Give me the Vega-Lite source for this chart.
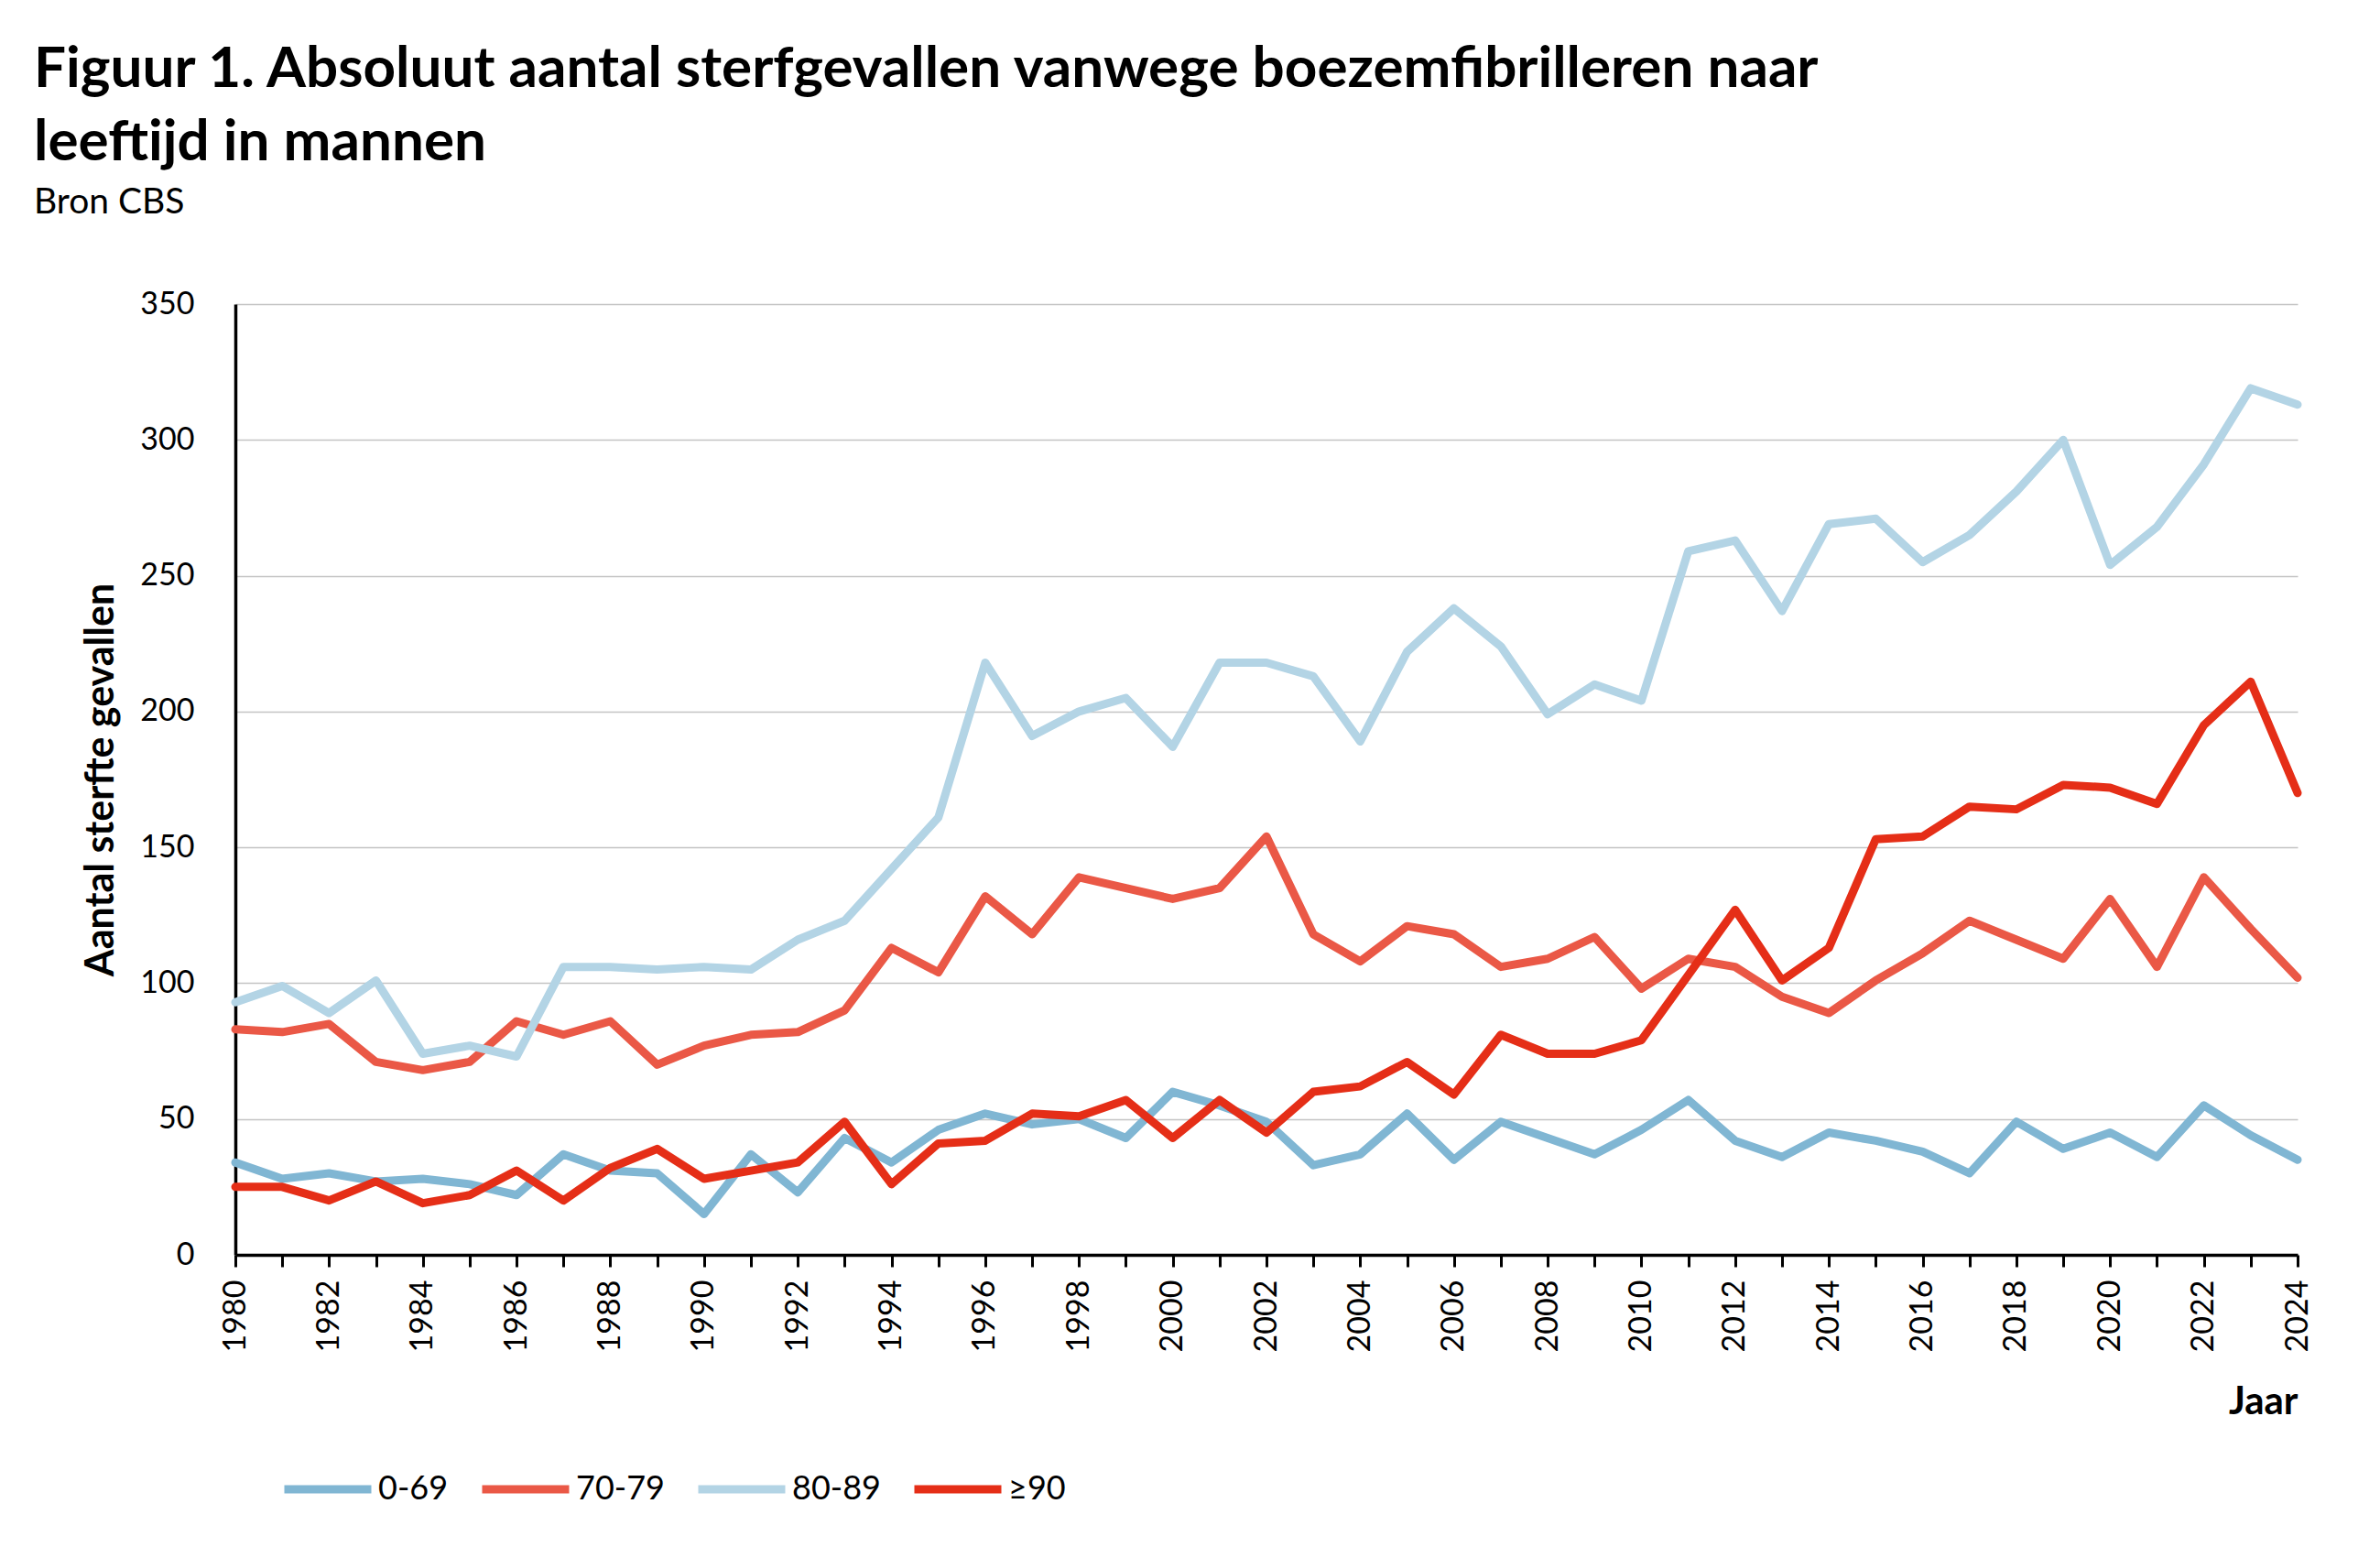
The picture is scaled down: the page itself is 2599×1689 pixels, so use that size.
{
  "$schema": "https://vega.github.io/schema/vega-lite/v6.json",
  "autosize": {"type": "none"},
  "padding": {"left": 257, "top": 332, "right": 90, "bottom": 319},
  "width": 2252,
  "height": 1038,
  "background": "white",
  "config": {
    "font": "Lato",
    "view": {"stroke": null}
  },
  "title": {
    "text": ["Figuur 1. Absoluut aantal sterfgevallen vanwege boezemfibrilleren naar", "leeftijd in mannen"],
    "subtitle": "Bron CBS",
    "anchor": "start",
    "frame": "group",
    "dx": -220,
    "offset": 73,
    "font": "Lato",
    "fontSize": 62,
    "fontWeight": "bold",
    "lineHeight": 80,
    "color": "black",
    "subtitleFont": "Lato",
    "subtitleFontSize": 39,
    "subtitleFontWeight": "normal",
    "subtitleColor": "black",
    "subtitlePadding": 14
  },
  "data": {
    "values": [
      {"jaar": 1980, "leeftijd": "0-69", "aantal": 34},
      {"jaar": 1981, "leeftijd": "0-69", "aantal": 28},
      {"jaar": 1982, "leeftijd": "0-69", "aantal": 30},
      {"jaar": 1983, "leeftijd": "0-69", "aantal": 27},
      {"jaar": 1984, "leeftijd": "0-69", "aantal": 28},
      {"jaar": 1985, "leeftijd": "0-69", "aantal": 26},
      {"jaar": 1986, "leeftijd": "0-69", "aantal": 22},
      {"jaar": 1987, "leeftijd": "0-69", "aantal": 37},
      {"jaar": 1988, "leeftijd": "0-69", "aantal": 31},
      {"jaar": 1989, "leeftijd": "0-69", "aantal": 30},
      {"jaar": 1990, "leeftijd": "0-69", "aantal": 15},
      {"jaar": 1991, "leeftijd": "0-69", "aantal": 37},
      {"jaar": 1992, "leeftijd": "0-69", "aantal": 23},
      {"jaar": 1993, "leeftijd": "0-69", "aantal": 43},
      {"jaar": 1994, "leeftijd": "0-69", "aantal": 34},
      {"jaar": 1995, "leeftijd": "0-69", "aantal": 46},
      {"jaar": 1996, "leeftijd": "0-69", "aantal": 52},
      {"jaar": 1997, "leeftijd": "0-69", "aantal": 48},
      {"jaar": 1998, "leeftijd": "0-69", "aantal": 50},
      {"jaar": 1999, "leeftijd": "0-69", "aantal": 43},
      {"jaar": 2000, "leeftijd": "0-69", "aantal": 60},
      {"jaar": 2001, "leeftijd": "0-69", "aantal": 55},
      {"jaar": 2002, "leeftijd": "0-69", "aantal": 49},
      {"jaar": 2003, "leeftijd": "0-69", "aantal": 33},
      {"jaar": 2004, "leeftijd": "0-69", "aantal": 37},
      {"jaar": 2005, "leeftijd": "0-69", "aantal": 52},
      {"jaar": 2006, "leeftijd": "0-69", "aantal": 35},
      {"jaar": 2007, "leeftijd": "0-69", "aantal": 49},
      {"jaar": 2008, "leeftijd": "0-69", "aantal": 43},
      {"jaar": 2009, "leeftijd": "0-69", "aantal": 37},
      {"jaar": 2010, "leeftijd": "0-69", "aantal": 46},
      {"jaar": 2011, "leeftijd": "0-69", "aantal": 57},
      {"jaar": 2012, "leeftijd": "0-69", "aantal": 42},
      {"jaar": 2013, "leeftijd": "0-69", "aantal": 36},
      {"jaar": 2014, "leeftijd": "0-69", "aantal": 45},
      {"jaar": 2015, "leeftijd": "0-69", "aantal": 42},
      {"jaar": 2016, "leeftijd": "0-69", "aantal": 38},
      {"jaar": 2017, "leeftijd": "0-69", "aantal": 30},
      {"jaar": 2018, "leeftijd": "0-69", "aantal": 49},
      {"jaar": 2019, "leeftijd": "0-69", "aantal": 39},
      {"jaar": 2020, "leeftijd": "0-69", "aantal": 45},
      {"jaar": 2021, "leeftijd": "0-69", "aantal": 36},
      {"jaar": 2022, "leeftijd": "0-69", "aantal": 55},
      {"jaar": 2023, "leeftijd": "0-69", "aantal": 44},
      {"jaar": 2024, "leeftijd": "0-69", "aantal": 35},
      {"jaar": 1980, "leeftijd": "70-79", "aantal": 83},
      {"jaar": 1981, "leeftijd": "70-79", "aantal": 82},
      {"jaar": 1982, "leeftijd": "70-79", "aantal": 85},
      {"jaar": 1983, "leeftijd": "70-79", "aantal": 71},
      {"jaar": 1984, "leeftijd": "70-79", "aantal": 68},
      {"jaar": 1985, "leeftijd": "70-79", "aantal": 71},
      {"jaar": 1986, "leeftijd": "70-79", "aantal": 86},
      {"jaar": 1987, "leeftijd": "70-79", "aantal": 81},
      {"jaar": 1988, "leeftijd": "70-79", "aantal": 86},
      {"jaar": 1989, "leeftijd": "70-79", "aantal": 70},
      {"jaar": 1990, "leeftijd": "70-79", "aantal": 77},
      {"jaar": 1991, "leeftijd": "70-79", "aantal": 81},
      {"jaar": 1992, "leeftijd": "70-79", "aantal": 82},
      {"jaar": 1993, "leeftijd": "70-79", "aantal": 90},
      {"jaar": 1994, "leeftijd": "70-79", "aantal": 113},
      {"jaar": 1995, "leeftijd": "70-79", "aantal": 104},
      {"jaar": 1996, "leeftijd": "70-79", "aantal": 132},
      {"jaar": 1997, "leeftijd": "70-79", "aantal": 118},
      {"jaar": 1998, "leeftijd": "70-79", "aantal": 139},
      {"jaar": 1999, "leeftijd": "70-79", "aantal": 135},
      {"jaar": 2000, "leeftijd": "70-79", "aantal": 131},
      {"jaar": 2001, "leeftijd": "70-79", "aantal": 135},
      {"jaar": 2002, "leeftijd": "70-79", "aantal": 154},
      {"jaar": 2003, "leeftijd": "70-79", "aantal": 118},
      {"jaar": 2004, "leeftijd": "70-79", "aantal": 108},
      {"jaar": 2005, "leeftijd": "70-79", "aantal": 121},
      {"jaar": 2006, "leeftijd": "70-79", "aantal": 118},
      {"jaar": 2007, "leeftijd": "70-79", "aantal": 106},
      {"jaar": 2008, "leeftijd": "70-79", "aantal": 109},
      {"jaar": 2009, "leeftijd": "70-79", "aantal": 117},
      {"jaar": 2010, "leeftijd": "70-79", "aantal": 98},
      {"jaar": 2011, "leeftijd": "70-79", "aantal": 109},
      {"jaar": 2012, "leeftijd": "70-79", "aantal": 106},
      {"jaar": 2013, "leeftijd": "70-79", "aantal": 95},
      {"jaar": 2014, "leeftijd": "70-79", "aantal": 89},
      {"jaar": 2015, "leeftijd": "70-79", "aantal": 101},
      {"jaar": 2016, "leeftijd": "70-79", "aantal": 111},
      {"jaar": 2017, "leeftijd": "70-79", "aantal": 123},
      {"jaar": 2018, "leeftijd": "70-79", "aantal": 116},
      {"jaar": 2019, "leeftijd": "70-79", "aantal": 109},
      {"jaar": 2020, "leeftijd": "70-79", "aantal": 131},
      {"jaar": 2021, "leeftijd": "70-79", "aantal": 106},
      {"jaar": 2022, "leeftijd": "70-79", "aantal": 139},
      {"jaar": 2023, "leeftijd": "70-79", "aantal": 120},
      {"jaar": 2024, "leeftijd": "70-79", "aantal": 102},
      {"jaar": 1980, "leeftijd": "80-89", "aantal": 93},
      {"jaar": 1981, "leeftijd": "80-89", "aantal": 99},
      {"jaar": 1982, "leeftijd": "80-89", "aantal": 89},
      {"jaar": 1983, "leeftijd": "80-89", "aantal": 101},
      {"jaar": 1984, "leeftijd": "80-89", "aantal": 74},
      {"jaar": 1985, "leeftijd": "80-89", "aantal": 77},
      {"jaar": 1986, "leeftijd": "80-89", "aantal": 73},
      {"jaar": 1987, "leeftijd": "80-89", "aantal": 106},
      {"jaar": 1988, "leeftijd": "80-89", "aantal": 106},
      {"jaar": 1989, "leeftijd": "80-89", "aantal": 105},
      {"jaar": 1990, "leeftijd": "80-89", "aantal": 106},
      {"jaar": 1991, "leeftijd": "80-89", "aantal": 105},
      {"jaar": 1992, "leeftijd": "80-89", "aantal": 116},
      {"jaar": 1993, "leeftijd": "80-89", "aantal": 123},
      {"jaar": 1994, "leeftijd": "80-89", "aantal": 142},
      {"jaar": 1995, "leeftijd": "80-89", "aantal": 161},
      {"jaar": 1996, "leeftijd": "80-89", "aantal": 218},
      {"jaar": 1997, "leeftijd": "80-89", "aantal": 191},
      {"jaar": 1998, "leeftijd": "80-89", "aantal": 200},
      {"jaar": 1999, "leeftijd": "80-89", "aantal": 205},
      {"jaar": 2000, "leeftijd": "80-89", "aantal": 187},
      {"jaar": 2001, "leeftijd": "80-89", "aantal": 218},
      {"jaar": 2002, "leeftijd": "80-89", "aantal": 218},
      {"jaar": 2003, "leeftijd": "80-89", "aantal": 213},
      {"jaar": 2004, "leeftijd": "80-89", "aantal": 189},
      {"jaar": 2005, "leeftijd": "80-89", "aantal": 222},
      {"jaar": 2006, "leeftijd": "80-89", "aantal": 238},
      {"jaar": 2007, "leeftijd": "80-89", "aantal": 224},
      {"jaar": 2008, "leeftijd": "80-89", "aantal": 199},
      {"jaar": 2009, "leeftijd": "80-89", "aantal": 210},
      {"jaar": 2010, "leeftijd": "80-89", "aantal": 204},
      {"jaar": 2011, "leeftijd": "80-89", "aantal": 259},
      {"jaar": 2012, "leeftijd": "80-89", "aantal": 263},
      {"jaar": 2013, "leeftijd": "80-89", "aantal": 237},
      {"jaar": 2014, "leeftijd": "80-89", "aantal": 269},
      {"jaar": 2015, "leeftijd": "80-89", "aantal": 271},
      {"jaar": 2016, "leeftijd": "80-89", "aantal": 255},
      {"jaar": 2017, "leeftijd": "80-89", "aantal": 265},
      {"jaar": 2018, "leeftijd": "80-89", "aantal": 281},
      {"jaar": 2019, "leeftijd": "80-89", "aantal": 300},
      {"jaar": 2020, "leeftijd": "80-89", "aantal": 254},
      {"jaar": 2021, "leeftijd": "80-89", "aantal": 268},
      {"jaar": 2022, "leeftijd": "80-89", "aantal": 291},
      {"jaar": 2023, "leeftijd": "80-89", "aantal": 319},
      {"jaar": 2024, "leeftijd": "80-89", "aantal": 313},
      {"jaar": 1980, "leeftijd": "≥90", "aantal": 25},
      {"jaar": 1981, "leeftijd": "≥90", "aantal": 25},
      {"jaar": 1982, "leeftijd": "≥90", "aantal": 20},
      {"jaar": 1983, "leeftijd": "≥90", "aantal": 27},
      {"jaar": 1984, "leeftijd": "≥90", "aantal": 19},
      {"jaar": 1985, "leeftijd": "≥90", "aantal": 22},
      {"jaar": 1986, "leeftijd": "≥90", "aantal": 31},
      {"jaar": 1987, "leeftijd": "≥90", "aantal": 20},
      {"jaar": 1988, "leeftijd": "≥90", "aantal": 32},
      {"jaar": 1989, "leeftijd": "≥90", "aantal": 39},
      {"jaar": 1990, "leeftijd": "≥90", "aantal": 28},
      {"jaar": 1991, "leeftijd": "≥90", "aantal": 31},
      {"jaar": 1992, "leeftijd": "≥90", "aantal": 34},
      {"jaar": 1993, "leeftijd": "≥90", "aantal": 49},
      {"jaar": 1994, "leeftijd": "≥90", "aantal": 26},
      {"jaar": 1995, "leeftijd": "≥90", "aantal": 41},
      {"jaar": 1996, "leeftijd": "≥90", "aantal": 42},
      {"jaar": 1997, "leeftijd": "≥90", "aantal": 52},
      {"jaar": 1998, "leeftijd": "≥90", "aantal": 51},
      {"jaar": 1999, "leeftijd": "≥90", "aantal": 57},
      {"jaar": 2000, "leeftijd": "≥90", "aantal": 43},
      {"jaar": 2001, "leeftijd": "≥90", "aantal": 57},
      {"jaar": 2002, "leeftijd": "≥90", "aantal": 45},
      {"jaar": 2003, "leeftijd": "≥90", "aantal": 60},
      {"jaar": 2004, "leeftijd": "≥90", "aantal": 62},
      {"jaar": 2005, "leeftijd": "≥90", "aantal": 71},
      {"jaar": 2006, "leeftijd": "≥90", "aantal": 59},
      {"jaar": 2007, "leeftijd": "≥90", "aantal": 81},
      {"jaar": 2008, "leeftijd": "≥90", "aantal": 74},
      {"jaar": 2009, "leeftijd": "≥90", "aantal": 74},
      {"jaar": 2010, "leeftijd": "≥90", "aantal": 79},
      {"jaar": 2011, "leeftijd": "≥90", "aantal": 103},
      {"jaar": 2012, "leeftijd": "≥90", "aantal": 127},
      {"jaar": 2013, "leeftijd": "≥90", "aantal": 101},
      {"jaar": 2014, "leeftijd": "≥90", "aantal": 113},
      {"jaar": 2015, "leeftijd": "≥90", "aantal": 153},
      {"jaar": 2016, "leeftijd": "≥90", "aantal": 154},
      {"jaar": 2017, "leeftijd": "≥90", "aantal": 165},
      {"jaar": 2018, "leeftijd": "≥90", "aantal": 164},
      {"jaar": 2019, "leeftijd": "≥90", "aantal": 173},
      {"jaar": 2020, "leeftijd": "≥90", "aantal": 172},
      {"jaar": 2021, "leeftijd": "≥90", "aantal": 166},
      {"jaar": 2022, "leeftijd": "≥90", "aantal": 195},
      {"jaar": 2023, "leeftijd": "≥90", "aantal": 211},
      {"jaar": 2024, "leeftijd": "≥90", "aantal": 170}
    ]
  },
  "mark": {"type": "line", "strokeWidth": 9, "strokeJoin": "round", "strokeCap": "round", "clip": false},
  "encoding": {
    "x": {
      "field": "jaar",
      "type": "quantitative",
      "scale": {"domain": [1980, 2024], "nice": false, "zero": false},
      "axis": {
        "title": "Jaar",
        "values": [1980, 1981, 1982, 1983, 1984, 1985, 1986, 1987, 1988, 1989, 1990, 1991, 1992, 1993, 1994, 1995, 1996, 1997, 1998, 1999, 2000, 2001, 2002, 2003, 2004, 2005, 2006, 2007, 2008, 2009, 2010, 2011, 2012, 2013, 2014, 2015, 2016, 2017, 2018, 2019, 2020, 2021, 2022, 2023, 2024],
        "labelExpr": "datum.value % 2 === 0 ? datum.value : ''",
        "format": "d",
        "labelAngle": -90,
        "labelFontSize": 34,
        "labelColor": "black",
        "labelPadding": 14,
        "labelOverlap": false,
        "labelFlush": false,
        "grid": false,
        "ticks": true,
        "tickSize": 13,
        "tickWidth": 3,
        "tickColor": "black",
        "domainColor": "black",
        "domainWidth": 3.5,
        "titleFontSize": 42,
        "titleFontWeight": "bold",
        "titleColor": "black",
        "titleAnchor": "end",
        "titleAlign": "right",
        "titleBaseline": "alphabetic",
        "titleX": 2252,
        "titleY": 173
      }
    },
    "y": {
      "field": "aantal",
      "type": "quantitative",
      "scale": {"domain": [0, 350], "nice": false},
      "axis": {
        "title": "Aantal sterfte gevallen",
        "values": [0, 50, 100, 150, 200, 250, 300, 350],
        "labelFontSize": 34,
        "labelColor": "black",
        "labelPadding": 45,
        "ticks": false,
        "tickSize": 0,
        "grid": true,
        "gridColor": "#c4c4c4",
        "gridWidth": 1.5,
        "domainColor": "black",
        "domainWidth": 3.5,
        "titleFontSize": 43,
        "titleFontWeight": "bold",
        "titleColor": "black",
        "titleX": -125,
        "titleY": 519,
        "titleAngle": -90,
        "titleBaseline": "bottom",
        "titleAlign": "center"
      }
    },
    "color": {
      "field": "leeftijd",
      "type": "nominal",
      "scale": {
        "domain": ["0-69", "70-79", "80-89", "≥90"],
        "range": ["#80b6d3", "#ea5846", "#b3d4e5", "#e52e17"]
      },
      "legend": {
        "title": null,
        "orient": "none",
        "direction": "horizontal",
        "legendX": 49,
        "legendY": 1242,
        "symbolType": "stroke",
        "symbolSize": 9025,
        "symbolStrokeWidth": 9,
        "labelFontSize": 36,
        "labelColor": "black",
        "labelOffset": 3,
        "columnPadding": 18
      }
    }
  }
}
